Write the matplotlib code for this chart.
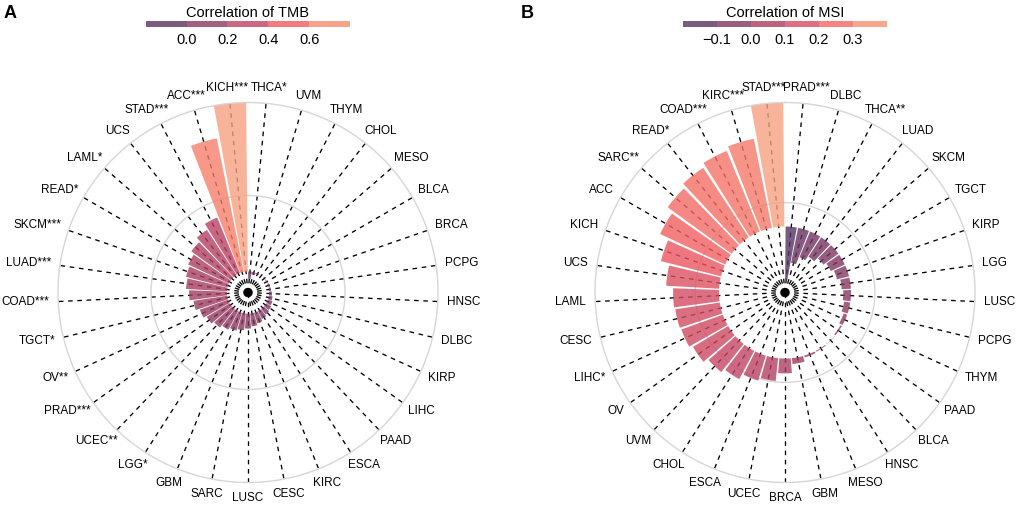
import numpy as np
import matplotlib
matplotlib.use('Agg')
import matplotlib.pyplot as plt
from matplotlib.colors import LinearSegmentedColormap, Normalize
from matplotlib.transforms import IdentityTransform

plt.rcParams['font.family'] = ['Liberation Sans', 'DejaVu Sans']

# panel A: TMB, clockwise from the top
tmb_types = ['THCA', 'UVM', 'THYM', 'CHOL', 'MESO', 'BLCA', 'BRCA', 'PCPG', 'HNSC', 'DLBC',
             'KIRP', 'LIHC', 'PAAD', 'ESCA', 'KIRC', 'CESC', 'LUSC', 'SARC', 'GBM', 'LGG',
             'UCEC', 'PRAD', 'OV', 'TGCT', 'COAD', 'LUAD', 'SKCM', 'READ', 'LAML', 'UCS',
             'STAD', 'ACC', 'KICH']
tmb_sig = ['*', '', '', '', '', '', '', '', '', '',
           '', '', '', '', '', '', '', '', '', '*',
           '**', '***', '**', '*', '***', '***', '***', '*', '*', '',
           '***', '***', '***']
tmb_corr = [-0.035, -0.012, -0.004, 0.0, 0.002, 0.004, 0.007, 0.009, 0.014, 0.018,
            0.023, 0.028, 0.033, 0.042, 0.052, 0.061, 0.071, 0.080, 0.089, 0.099,
            0.113, 0.127, 0.142, 0.161, 0.179, 0.194, 0.203, 0.213, 0.232, 0.255,
            0.284, 0.645, 0.80]

# panel B: MSI, clockwise from the top
msi_types = ['PRAD', 'DLBC', 'THCA', 'LUAD', 'SKCM', 'TGCT', 'KIRP', 'LGG', 'LUSC', 'PCPG',
             'THYM', 'PAAD', 'BLCA', 'HNSC', 'MESO', 'GBM', 'BRCA', 'UCEC', 'ESCA', 'CHOL',
             'UVM', 'OV', 'LIHC', 'CESC', 'LAML', 'UCS', 'KICH', 'ACC', 'SARC', 'READ',
             'COAD', 'KIRC', 'STAD']
msi_sig = ['***', '', '**', '', '', '', '', '', '', '',
           '', '', '', '', '', '', '', '', '', '',
           '', '', '*', '', '', '', '', '', '**', '*',
           '***', '***', '***']
msi_corr = [-0.174, -0.115, -0.09, -0.075, -0.06, -0.05, -0.04, -0.03, -0.025, -0.02,
            -0.012, -0.005, 0.001, 0.003, 0.006, 0.019, 0.048, 0.074, 0.084, 0.103,
            0.116, 0.132, 0.142, 0.145, 0.148, 0.171, 0.200, 0.232, 0.255, 0.268,
            0.281, 0.293, 0.40]

palette = ['#503160', '#5c3260', '#8d385f', '#c04263', '#f25961', '#f68d6e', '#f7a281']
pal_pos = [0, 0.1, 0.3, 0.5, 0.7, 0.9, 1.0]
cmap = LinearSegmentedColormap.from_list('corr', list(zip(pal_pos, palette)))
ALPHA = 0.8


def circular_bar(fig, rect, types, sig, corr, rlim, ring, clim):
    ax = fig.add_axes(rect, projection='polar')
    n = len(types)
    theta = (np.arange(n) + 0.5) * 2 * np.pi / n
    norm = Normalize(*clim)
    ax.set_theta_zero_location('N')
    ax.set_theta_direction(-1)
    ax.bar(theta, corr, width=2 * np.pi / n * 0.9, bottom=0,
           color=cmap(norm(np.array(corr))), alpha=ALPHA, linewidth=0, zorder=2)
    ax.set_ylim(*rlim)
    ax.set_xticks(theta)
    ax.set_xticklabels([])
    ax.set_yticks([ring])
    ax.set_yticklabels([])
    ax.xaxis.grid(True, color='black', linestyle=(0, (3.5, 3.5)), linewidth=0.95)
    ax.yaxis.grid(True, color='#d6d6d6', linewidth=1.0, linestyle='-')
    ax.spines['polar'].set_color('#d6d6d6')
    ax.spines['polar'].set_linewidth(1.0)
    ax.set_axisbelow(True)
    ax.tick_params(length=0)
    labels = [t + s for t, s in zip(types, sig)]
    return ax, theta, labels


def place_labels(fig, ax, theta, labels, rlim, renderer):
    cx, cy = ax.transData.transform((0, rlim[0]))
    ex, ey = ax.transData.transform((0, rlim[1]))
    R = np.hypot(ex - cx, ey - cy) + 9
    for th, lab in zip(theta, labels):
        s, c = np.sin(th), np.cos(th)
        t = fig.text(0, 0, lab, transform=IdentityTransform(), fontsize=8.5,
                     ha='center', va='center')
        bb = t.get_window_extent(renderer)
        t.set_position((cx + R * s + s * bb.width / 2, cy + R * c + c * bb.height / 2))


def colorbar(fig, rect, clim, step, ticks, title):
    cax = fig.add_axes(rect)
    bounds = np.arange(clim[0], clim[1] + step / 2, step)
    norm = Normalize(*clim)
    for lo, hi in zip(bounds[:-1], bounds[1:]):
        cax.axvspan(lo, hi, color=cmap(norm((lo + hi) / 2)), alpha=ALPHA, lw=0)
    cax.set_xlim(*clim)
    cax.set_ylim(0, 1)
    cax.set_xticks(ticks)
    cax.set_xticklabels([f'{t:.1f}'.replace('-', '\u2212') for t in ticks])
    cax.tick_params(length=0, labelsize=10.5, pad=4)
    cax.set_yticks([])
    for sp in cax.spines.values():
        sp.set_visible(False)
    cax.set_title(title, fontsize=10.5, pad=3)
    return cax


fig = plt.figure(figsize=(10.2, 5.16), dpi=100)

rlim_a = (-0.1, 0.8)
rlim_b = (-0.213, 0.4)
ax_a, th_a, lab_a = circular_bar(fig, [0.05686, 0.06492, 0.37255, 0.73643], tmb_types, tmb_sig,
                                 tmb_corr, rlim_a, 0.3595, (-0.2, 0.8))
ax_b, th_b, lab_b = circular_bar(fig, [0.58333, 0.06492, 0.37255, 0.73643], msi_types, msi_sig,
                                 msi_corr, rlim_b, 0.077, (-0.2, 0.4))

colorbar(fig, [0.14284, 0.94671, 0.2003, 0.01163], (-0.2, 0.8), 0.2,
         [0.0, 0.2, 0.4, 0.6], 'Correlation of TMB')
colorbar(fig, [0.66931, 0.94671, 0.2003, 0.01163], (-0.2, 0.4), 0.1,
         [-0.1, 0.0, 0.1, 0.2, 0.3], 'Correlation of MSI')

fig.text(4 / 1020, 1 - 5 / 516, 'A', fontsize=13, fontweight='bold', va='top', ha='left')
fig.text(521 / 1020, 1 - 5 / 516, 'B', fontsize=13, fontweight='bold', va='top', ha='left')

fig.canvas.draw()
renderer = fig.canvas.get_renderer()
place_labels(fig, ax_a, th_a, lab_a, rlim_a, renderer)
place_labels(fig, ax_b, th_b, lab_b, rlim_b, renderer)

fig.savefig('out.png', dpi=100)
